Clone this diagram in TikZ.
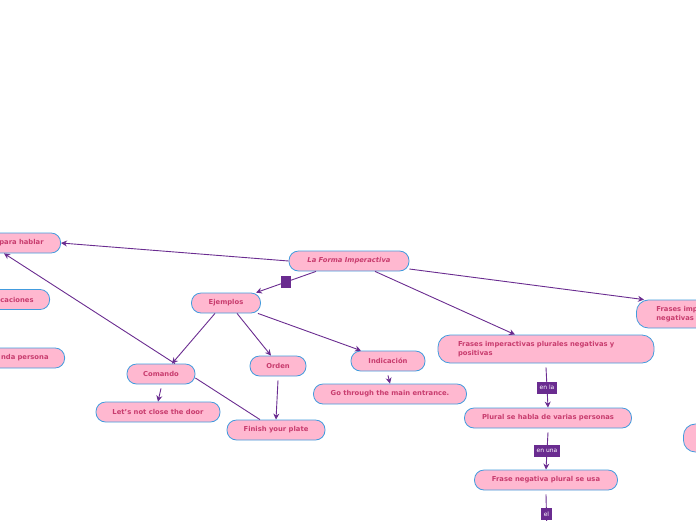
\documentclass[tikz,border=0pt]{standalone}
\usepackage{fontspec}
\setmainfont{DejaVu Sans}
\usepackage{tikz}
\usetikzlibrary{arrows.meta,positioning}
\definecolor{boxpink}{RGB}{255,184,208}
\definecolor{boxblue}{RGB}{66,156,222}
\definecolor{txtpink}{RGB}{200,60,110}
\definecolor{mmpurple}{RGB}{106,44,144}

\begin{document}
\begin{tikzpicture}[x=1pt,y=-1pt,
  idea/.style={draw=boxblue,fill=boxpink,line width=0.8pt,rounded corners=9.5pt,
    text=txtpink,font=\fontsize{6.8}{8.5}\selectfont\bfseries,
    minimum height=20pt,inner xsep=2pt,inner ysep=1pt},
  bigidea/.style={idea,minimum height=28pt,rounded corners=12pt},
  link/.style={draw=mmpurple,line width=0.9pt},
  tip/.style={link,-{Stealth[length=6pt,width=6pt]}},
  fold/.style={fill=mmpurple,minimum width=10pt,minimum height=12pt,inner sep=0pt},
  tag/.style={fill=mmpurple,text=white,font=\fontsize{6}{7}\selectfont,
    inner xsep=3pt,inner ysep=0pt,minimum height=12pt}]

\useasboundingbox (0,0) rectangle (696,520);
\clip (0,0) rectangle (696,520);

% central topic
\node[idea,minimum width=120pt] (root) at (349,261) {\textit{La Forma Imperactiva}};

% cut off on the left
\node[idea,anchor=east,text width=100pt,align=right,inner xsep=17pt] (hablar) at (61,243) {para hablar};
\node[idea,anchor=east,text width=100pt,align=right,inner xsep=16pt] (caciones) at (50,299.5) {caciones};
\node[idea,anchor=east,text width=100pt,align=right,inner xsep=16pt] (persona) at (65,358) {nda persona};

% cut off on the right
\node[bigidea,anchor=west,text width=150pt,align=left,inner xsep=20pt] (singular) at (636,314) {Frases imperactivas\\negativas};
\node[bigidea,anchor=west,minimum width=80pt] (edge) at (683,438) {};

% examples
\node[idea,minimum width=69pt] (ejemplos) at (226,303) {Ejemplos};
\node[idea,minimum width=68pt] (comando) at (161,374) {Comando};
\node[idea,minimum width=56pt] (orden) at (278,366) {Orden};
\node[idea,minimum width=74pt] (indicacion) at (388,361) {Indicación};
\node[idea,minimum width=124pt] (door) at (158,412) {Let's not close the door};
\node[idea,minimum width=98pt] (plate) at (276,430) {Finish your plate};
\node[idea,minimum width=153pt] (entrance) at (390,394) {Go through the main entrance.};

% plural
\node[bigidea,text width=176pt,align=left,inner xsep=20pt] (plurales) at (546,349) {Frases imperactivas plurales negativas y\\positivas};
\node[idea,minimum width=167pt] (varias) at (548,418) {Plural se habla de varias personas};
\node[idea,minimum width=143pt] (negativa) at (546,480) {Frase negativa plural se usa};
\coordinate (below) at (547,538);

% connectors from the root
\draw[tip] (root.west) -- (hablar.east);
\draw[tip] ([xshift=-33pt]root.south) -- node[fold,midway] {} ([xshift=30pt]ejemplos.north);
\draw[tip] ([xshift=26pt]root.south) -- ([xshift=-31pt]plurales.north);
\draw[tip] ([yshift=-8pt]root.east) -- ([xshift=8pt]singular.north west);

% examples
\draw[tip] ([xshift=-11pt]ejemplos.south) -- ([xshift=11pt]comando.north);
\draw[tip] ([xshift=11pt]ejemplos.south) -- ([xshift=-7pt]orden.north);
\draw[tip] ([xshift=-3pt]ejemplos.south east) -- ([xshift=-27pt]indicacion.north);
\draw[tip] ([xshift=14pt]comando.north) -- ([xshift=-57pt]hablar.south east);
\draw[tip] ([yshift=-4pt]comando.south) -- (door.north);
\draw[link] ([yshift=-4pt]comando.east) -- ([xshift=-16pt]plate.north);
\draw[tip] ([yshift=-4pt]orden.south) -- (plate.north);
\draw[tip] ([yshift=-4pt]indicacion.south) -- (entrance.north);

% plural chain
\draw[tip] ([yshift=-4pt]plurales.south) -- node[tag,midway] {en la} (varias.north);
\draw[tip] ([yshift=-4pt]varias.south) -- node[tag,midway] {en una} (negativa.north);
\draw[link] ([yshift=-4pt]negativa.south) -- node[tag,pos=0.45] {el} (below);
\end{tikzpicture}
\end{document}
